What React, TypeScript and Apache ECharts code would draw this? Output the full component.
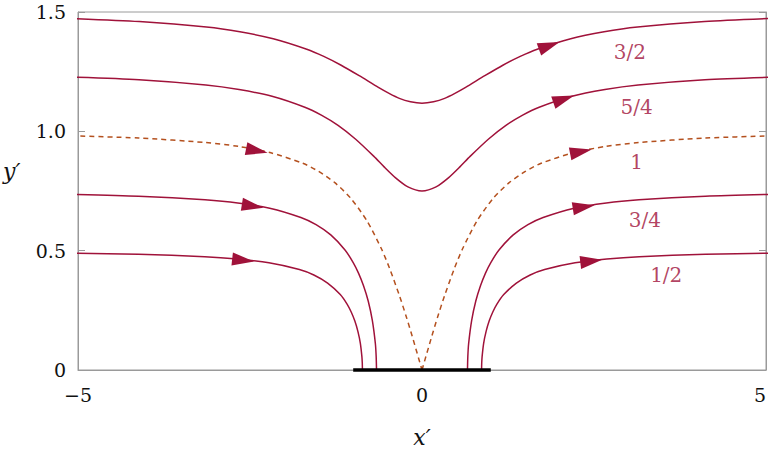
import React, { useEffect, useRef } from "react";
import * as echarts from "echarts";

// Streamline points (x', y')
const line05Right: number[][] = [
  [0.866, 0], [0.868, 0.029], [0.874, 0.057], [0.896, 0.112], [0.931, 0.161], [0.976, 0.205],
  [1.029, 0.243], [1.089, 0.276], [1.188, 0.316], [1.372, 0.364], [1.572, 0.398], [1.782, 0.421],
  [2.225, 0.449], [2.686, 0.465], [3.158, 0.475], [4.121, 0.485], [5.098, 0.49],
];
const line05Left: number[][] = [
  [-5.098, 0.49], [-4.121, 0.485], [-3.158, 0.475], [-2.686, 0.465], [-2.225, 0.449], [-1.782, 0.421],
  [-1.572, 0.398], [-1.372, 0.364], [-1.188, 0.316], [-1.089, 0.276], [-1.029, 0.243], [-0.976, 0.205],
  [-0.931, 0.161], [-0.896, 0.112], [-0.874, 0.057], [-0.868, 0.029], [-0.866, 0],
];
const line075Right: number[][] = [
  [0.661, 0], [0.666, 0.056], [0.678, 0.111], [0.722, 0.208], [0.781, 0.288], [0.85, 0.353],
  [0.923, 0.406], [1.0, 0.45], [1.119, 0.503], [1.326, 0.566], [1.54, 0.609], [1.76, 0.639],
  [2.213, 0.678], [2.679, 0.7], [3.154, 0.713], [4.119, 0.728], [5.097, 0.736],
];
const line075Left: number[][] = [
  [-5.097, 0.736], [-4.119, 0.728], [-3.154, 0.713], [-2.679, 0.7], [-2.213, 0.678], [-1.76, 0.639],
  [-1.54, 0.609], [-1.326, 0.566], [-1.119, 0.503], [-1.0, 0.45], [-0.923, 0.406], [-0.85, 0.353],
  [-0.781, 0.288], [-0.722, 0.208], [-0.678, 0.111], [-0.666, 0.056], [-0.661, 0],
];
const line1Right: number[][] = [
  [0, 0], [0.142, 0.141], [0.226, 0.221], [0.324, 0.308], [0.47, 0.425], [0.59, 0.508],
  [0.8, 0.625], [1.04, 0.721], [1.272, 0.786], [1.502, 0.832], [1.732, 0.866], [2.197, 0.91],
  [2.67, 0.937], [3.148, 0.953], [4.116, 0.972], [5.095, 0.981],
];
const line1Left: number[][] = [
  [-5.095, 0.981], [-4.116, 0.972], [-3.148, 0.953], [-2.67, 0.937], [-2.197, 0.91], [-1.732, 0.866],
  [-1.502, 0.832], [-1.272, 0.786], [-1.04, 0.721], [-0.8, 0.625], [-0.59, 0.508], [-0.47, 0.425],
  [-0.324, 0.308], [-0.226, 0.221], [-0.142, 0.141], [0, 0],
];
const line125: number[][] = [
  [-5.093, 1.227], [-4.113, 1.216], [-3.141, 1.194], [-2.659, 1.175], [-2.18, 1.147], [-1.703, 1.101],
  [-1.463, 1.068], [-1.22, 1.025], [-0.968, 0.968], [-0.699, 0.895], [-0.551, 0.851], [-0.388, 0.806],
  [-0.204, 0.767], [0, 0.75], [0.204, 0.767], [0.388, 0.806], [0.551, 0.851], [0.699, 0.895],
  [0.968, 0.968], [1.22, 1.025], [1.463, 1.068], [1.703, 1.101], [2.18, 1.147], [2.659, 1.175],
  [3.141, 1.194], [4.113, 1.216], [5.093, 1.227],
];
const line15: number[][] = [
  [-5.091, 1.473], [-4.109, 1.46], [-3.133, 1.437], [-2.647, 1.417], [-2.162, 1.388], [-1.675, 1.344],
  [-1.428, 1.314], [-1.175, 1.277], [-0.913, 1.233], [-0.634, 1.184], [-0.485, 1.16], [-0.329, 1.138],
  [-0.167, 1.124], [0, 1.118], [0.167, 1.124], [0.329, 1.138], [0.485, 1.16], [0.634, 1.184],
  [0.913, 1.233], [1.175, 1.277], [1.428, 1.314], [1.675, 1.344], [2.162, 1.388], [2.647, 1.417],
  [3.133, 1.437], [4.109, 1.46], [5.091, 1.473],
];
const plate: number[][] = [[-1, 0], [1, 0]];

// Arrowheads: position and direction (degrees)
const arrowX = [-2.6, -2.46, -2.4, 2.46, 2.35, 2.31, 2.06, 1.85];
const arrowY = [0.46, 0.687, 0.919, 0.456, 0.683, 0.915, 1.135, 1.359];
const arrowRot = [-96.5, -99.3, -101.2, -83.2, -80.7, -78.8, -71, -70];

// Curve labels
const labelNames = ["3/2", "5/4", "1", "3/4", "1/2"];
const labelX = [3.02, 3.12, 3.12, 3.24, 3.55];
const labelY = [1.332, 1.102, 0.871, 0.628, 0.398];

const xTicks = { min: -5, max: 5, interval: 5 };
const yTicks = { min: 0, max: 1.5, interval: 0.5 };

const RED = "#a0123a";
const ORANGE = "#b4501e";
const SERIF = "DejaVu Serif";

export default function App() {
  const ref = useRef<HTMLDivElement>(null);
  useEffect(() => {
    document.body.style.margin = "0";
    const chart = echarts.init(ref.current!, null, { renderer: "svg" });
    const solid = (data: number[][]) => ({
      type: "line",
      data,
      showSymbol: false,
      symbol: "none",
      smooth: 0.25,
      lineStyle: { color: RED, width: 1.5 },
      z: 3,
    });
    const dashed = (data: number[][]) => ({
      type: "line",
      data,
      showSymbol: false,
      symbol: "none",
      smooth: 0.25,
      lineStyle: { color: ORANGE, width: 1.5, type: [5, 4] },
      z: 3,
    });
    const option: any = {
      animation: false,
      textStyle: { fontFamily: SERIF },
      grid: { left: 78, right: 3, top: 12, bottom: 84, show: true, borderColor: "#9a9a9a", borderWidth: 1, outerBoundsMode: "none" },
      graphic: [
        {
          type: "text",
          left: 3,
          top: 160,
          style: { text: "y\u2032", fontFamily: SERIF, fontSize: 22, fontStyle: "italic", fill: "#111" },
        },
      ],
      xAxis: {
        type: "value",
        min: xTicks.min,
        max: xTicks.max,
        interval: xTicks.interval,
        name: "x\u2032",
        nameLocation: "middle",
        nameGap: 56,
        nameTextStyle: { fontFamily: SERIF, fontSize: 22, fontStyle: "italic", color: "#111" },
        axisLine: { show: true, onZero: false, lineStyle: { color: "#9a9a9a" } },
        axisTick: { show: false },
        splitLine: { show: false },
        axisLabel: {
          fontFamily: SERIF,
          fontSize: 19,
          color: "#111",
          margin: 15,
          alignMaxLabel: "right",
          formatter: (v: number) => (v < 0 ? "\u2212" + Math.abs(v) : String(v)),
        },
      },
      yAxis: [
        {
          type: "value",
          min: yTicks.min,
          max: yTicks.max,
          interval: yTicks.interval,
          axisLine: { show: true, onZero: false, lineStyle: { color: "#9a9a9a" } },
          axisTick: { show: true, inside: true, length: 7, lineStyle: { color: "#9a9a9a" } },
          splitLine: { show: false },
          axisLabel: {
            fontFamily: SERIF,
            fontSize: 19,
            color: "#111",
            margin: 12,
            formatter: (v: number) => (v === 0 ? "0" : v.toFixed(1)),
          },
        },
        {
          type: "value",
          position: "right",
          min: yTicks.min,
          max: yTicks.max,
          interval: yTicks.interval,
          axisLine: { show: true, onZero: false, lineStyle: { color: "#9a9a9a" } },
          axisTick: { show: true, inside: true, length: 7, lineStyle: { color: "#9a9a9a" } },
          splitLine: { show: false },
          axisLabel: { show: false },
        },
      ],
      series: [
        solid(line05Left),
        solid(line05Right),
        solid(line075Left),
        solid(line075Right),
        dashed(line1Left),
        dashed(line1Right),
        solid(line125),
        solid(line15),
        {
          type: "line",
          data: plate,
          showSymbol: false,
          symbol: "none",
          clip: false,
          lineStyle: { color: "#000", width: 3.5 },
          z: 5,
        },
        {
          type: "scatter",
          symbol: "triangle",
          symbolSize: [13, 22],
          itemStyle: { color: RED, opacity: 1 },
          data: arrowX.map((x, i) => ({ value: [x, arrowY[i]], symbolRotate: arrowRot[i] })),
          z: 6,
        },
        {
          type: "scatter",
          symbolSize: 1,
          itemStyle: { color: "rgba(0,0,0,0)" },
          label: {
            show: true,
            position: "inside",
            formatter: "{b}",
            fontFamily: SERIF,
            fontSize: 20,
            color: RED,
          },
          data: labelNames.map((n, i) => ({ name: n, value: [labelX[i], labelY[i]] })),
          z: 6,
        },
      ],
    };
    chart.setOption(option);
    return () => chart.dispose();
  }, []);
  return <div ref={ref} style={{ width: 769, height: 454 }} />;
}
